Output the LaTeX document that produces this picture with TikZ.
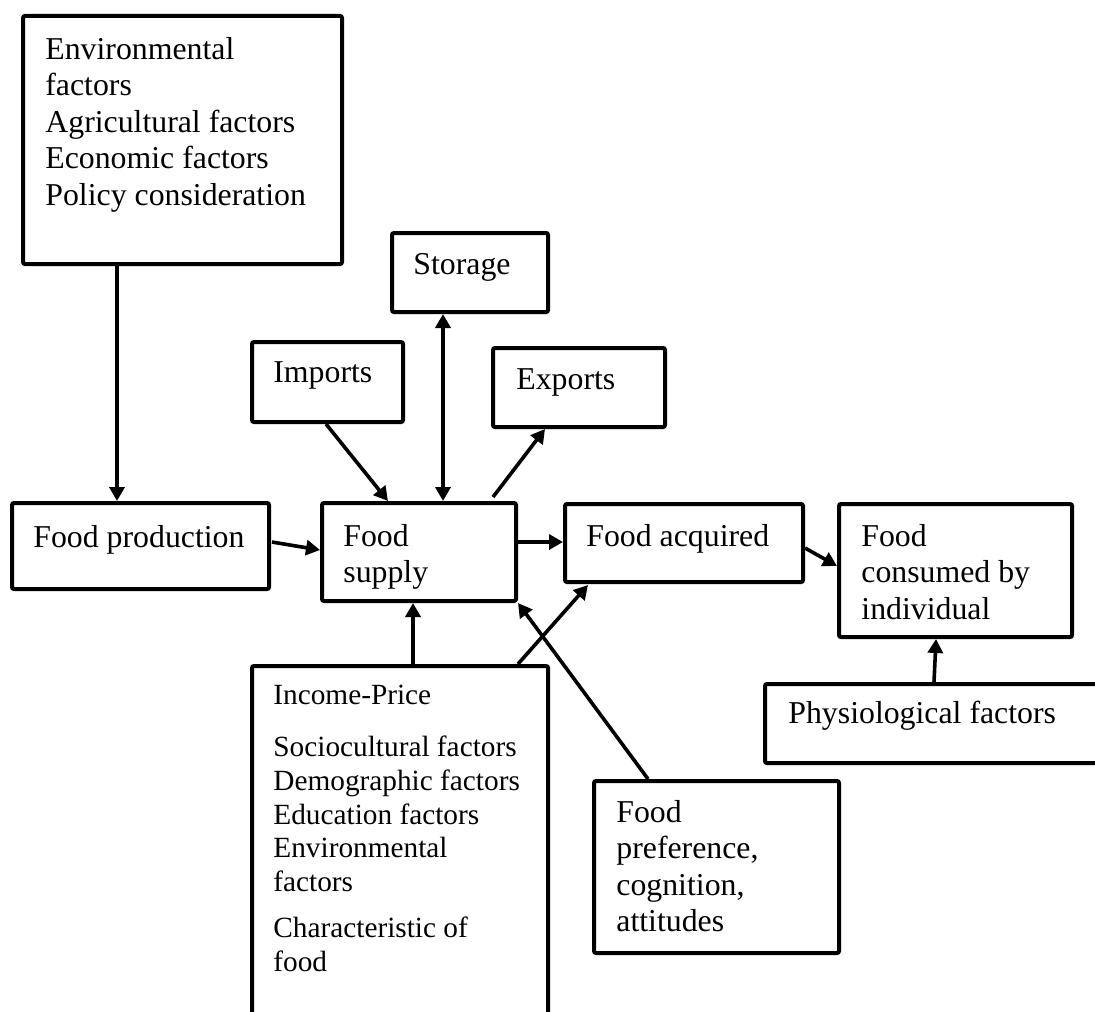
\documentclass[tikz,border=0pt]{standalone}
\usepackage{fontspec}
\setmainfont{Liberation Serif}
\usetikzlibrary{arrows.meta,calc,fit}
\tikzset{
  box/.style={draw, line width=2pt, rounded corners=1pt, inner sep=0pt},
  txt/.style={anchor=north west, inner sep=0pt, align=left, font=\fontsize{15.9pt}{18.25pt}\selectfont},
  smalltxt/.style={anchor=north west, inner sep=0pt, align=left, font=\fontsize{14.65pt}{16.85pt}\selectfont},
  arr/.style={line width=1.8pt, -{Triangle[length=7pt,width=7.5pt]}},
  dblarr/.style={line width=1.8pt, {Triangle[length=7pt,width=7.5pt]}-{Triangle[length=7pt,width=7.5pt]}}
}
\begin{document}
\begin{tikzpicture}[x=0.5pt,y=-0.5pt]
\useasboundingbox (0,0) rectangle (1095,1011);
\clip (0,0) rectangle (1095,1011);
% boxes
\node[box, fit={(23,16) (342,264)}] (box1) {};
\node[box, fit={(392,233) (548,312)}] (storage) {};
\node[box, fit={(252,342) (403,422)}] (imports) {};
\node[box, fit={(493,348) (665,427)}] (exports) {};
\node[box, fit={(12,503) (269,589)}] (fprod) {};
\node[box, fit={(322,503) (516,601)}] (fsupply) {};
\node[box, fit={(565,504) (803,582)}] (facq) {};
\node[box, fit={(839,504) (1072,637)}] (fcons) {};
\node[box, fit={(765,684) (1120,763)}] (phys) {};
\node[box, fit={(252,666) (548,1040)}] (income) {};
\node[box, fit={(594,781) (839,953)}] (fpref) {};
% texts
\node[txt] (box1t) at (45,37) {Environmental\\factors\\Agricultural factors\\Economic factors\\Policy consideration};
\node[txt] (storaget) at (413,253) {Storage};
\node[txt] (importst) at (273,361) {Imports};
\node[txt] (exportst) at (516,368) {Exports};
\node[txt] (fprodt) at (33,525) {Food production};
\node[txt] (fsupplyt) at (343,524) {Food\\supply};
\node[txt] (facqt) at (586,524) {Food acquired};
\node[txt] (fconst) at (861,524) {Food\\consumed by\\individual};
\node[txt] (physt) at (788,701) {Physiological factors};
\node[smalltxt] (incomet) at (273,685) {Income-Price\\[9.15pt]Sociocultural factors\\Demographic factors\\Education factors\\Environmental\\factors\\[6.15pt]Characteristic of\\food};
\node[txt] (fpreft) at (616,800) {Food\\preference,\\cognition,\\attitudes};
% connectors
\draw[arr] ($(box1.south west)+(96,0)$) -- ($(fprod.north west)+(107,0)$);
\draw[arr] ($(imports.south west)+(76,0)$) -- ($(fsupply.north west)+(68,0)$);
\draw[dblarr] ($(storage.south west)+(53,0)$) -- ($(fsupply.north west)+(123,0)$);
\draw[arr] ($(fsupply.north west)+(173,-4)$) -- ($(exports.south west)+(54,0)$);
\draw[arr] ($(fprod.north east)+(1,41)$) -- ($(fsupply.north west)+(0,49)$);
\draw[arr] ($(fsupply.north east)+(0,41)$) -- ($(facq.north west)+(0,40)$);
\draw[arr] ($(facq.north east)+(0,46)$) -- ($(fcons.north west)+(0,64)$);
\draw[arr] ($(phys.north west)+(171,0)$) -- ($(fcons.south west)+(99,0)$);
\draw[arr] ($(income.north west)+(163,0)$) -- ($(fsupply.south west)+(93,0)$);
\draw[arr] ($(income.north west)+(268,0)$) -- ($(facq.south west)+(25,1)$);
\draw[arr] ($(fpref.north west)+(56,0)$) -- (fsupply.south east);
\end{tikzpicture}
\end{document}
